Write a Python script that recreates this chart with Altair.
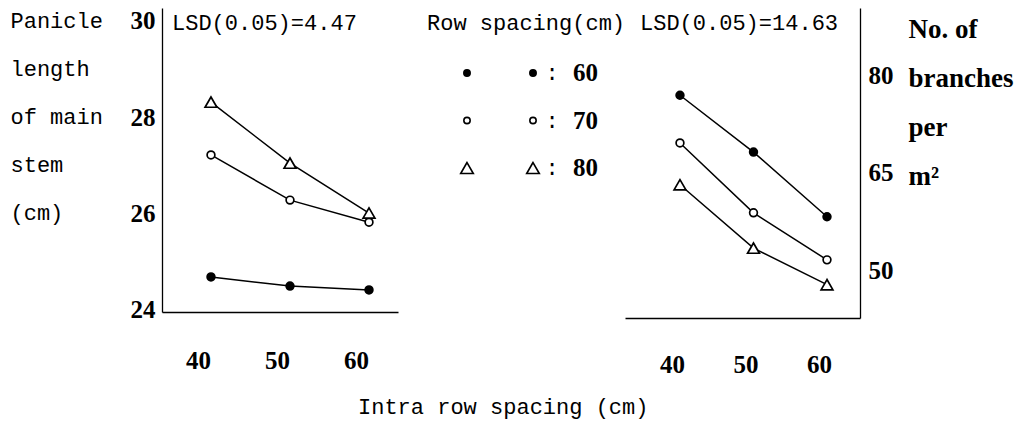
import altair as alt
import pandas as pd

# ---------------- data ----------------
spacing_x = [40, 50, 60]
row_series = ["60", "70", "80"]

panicle_60 = [24.67, 24.48, 24.40]
panicle_70 = [27.21, 26.27, 25.81]
panicle_80 = [28.31, 27.04, 26.00]

branches_60 = [76.9, 68.2, 58.3]
branches_70 = [69.6, 58.9, 51.7]
branches_80 = [63.2, 53.5, 47.9]

left_y_ticks = [24, 26, 28, 30]
right_y_ticks = [50, 65, 80]
x_ticks = [40, 50, 60]

lsd_left = "LSD(0.05)=4.47"
lsd_right = "LSD(0.05)=14.63"
left_title = ["Panicle", "length", "of main", "stem", "(cm)"]
right_title = ["No. of", "branches", "per", "m\u00b2"]
legend_title = "Row spacing(cm)"
x_title = "Intra row spacing (cm)"

MONO = "Liberation Mono"
SERIF = "Liberation Serif"


def long_table(series_lists):
    rows = []
    for s, vals in zip(row_series, series_lists):
        for x, v in zip(spacing_x, vals):
            rows.append({"spacing": x, "series": s, "value": v})
    return pd.DataFrame(rows)


left_df = long_table([panicle_60, panicle_70, panicle_80])
right_df = long_table([branches_60, branches_70, branches_80])
legend_df = pd.DataFrame({"series": row_series, "label": row_series})

shape_scale = alt.Scale(domain=row_series, range=["circle", "circle", "triangle-up"])
fill_scale = alt.Scale(domain=row_series, range=["black", "white", "white"])
is_tri = alt.datum.series == "80"


def panel(df, xdom, ydom, yticks, orient, title_lines, title_x, title_y,
          title_lh, title_font, title_size, title_weight, lab_pad_x,
          lab_off_x, lab_pad_y, lsd_text, lsd_x, w, h):
    x_enc = alt.X(
        "spacing:Q",
        scale=alt.Scale(domain=xdom, nice=False, zero=False),
        axis=alt.Axis(values=x_ticks, title=None, ticks=False, tickSize=0,
                      labelPadding=lab_pad_x, labelOffset=lab_off_x,
                      labelFont=SERIF, labelFontSize=25, labelFontWeight="bold",
                      labelFlush=False),
    )
    y_enc = alt.Y(
        "value:Q",
        scale=alt.Scale(domain=ydom, nice=False, zero=False),
        axis=alt.Axis(values=yticks, orient=orient, title=title_lines,
                      titleAngle=0, titleAlign="left", titleBaseline="alphabetic",
                      titleX=title_x, titleY=title_y, titleLineHeight=title_lh,
                      titleFont=title_font, titleFontSize=title_size,
                      titleFontWeight=title_weight, ticks=False, tickSize=0,
                      labelPadding=lab_pad_y, labelFont=SERIF, labelFontSize=25,
                      labelFontWeight="bold", labelFlush=False),
    )
    base = alt.Chart(df)
    lines = base.mark_line(color="black", strokeWidth=1.5).encode(
        x=x_enc, y=y_enc, detail="series:N"
    )
    pts = base.mark_point(color="black", strokeWidth=1.7, opacity=1,
                          filled=False).encode(
        x="spacing:Q", y="value:Q",
        shape=alt.Shape("series:N", scale=shape_scale, legend=None),
        fill=alt.Fill("series:N", scale=fill_scale, legend=None),
        size=alt.condition(is_tri, alt.value(140), alt.value(60)),
    )
    lsd = alt.Chart(pd.DataFrame({"t": [lsd_text]})).mark_text(
        align="left", baseline="middle", font=MONO, fontSize=22, color="black"
    ).encode(text="t:N", x=alt.value(lsd_x), y=alt.value(15))
    return alt.layer(lines, pts, lsd).properties(width=w, height=h)


left = panel(left_df, [33.8, 63.67], [23.94, 30.27], left_y_ticks, "left",
             left_title, -152, 19, 48, MONO, 22, "normal", 36, -13, 7,
             lsd_left, 10, 236, 304)

right = panel(right_df, [32.52, 64.49], [42.8, 90.26], right_y_ticks, "right",
              right_title, 48, 29, 49, SERIF, 27, "bold", 34, -8, 8,
              lsd_right, 15, 235, 310)

# ---------------- legend (middle) ----------------
leg_y = alt.Y("series:N", scale=alt.Scale(type="point", domain=row_series,
                                          range=[65, 160], padding=0), axis=None)
leg_base = alt.Chart(legend_df)


def leg_symbols(xpos):
    return leg_base.mark_point(color="black", strokeWidth=1.6, opacity=1).encode(
        x=alt.value(xpos), y=leg_y,
        shape=alt.Shape("series:N", scale=shape_scale, legend=None),
        fill=alt.Fill("series:N", scale=fill_scale, legend=None),
        size=alt.condition(is_tri, alt.value(160), alt.value(40)),
    )


leg_colon = leg_base.mark_text(text=":", font=MONO, fontSize=22, color="black",
                               align="center", baseline="middle").encode(
    x=alt.value(154), y=leg_y)
leg_lab = leg_base.mark_text(font=SERIF, fontSize=25, fontWeight="bold",
                             color="black", align="left", baseline="middle").encode(
    x=alt.value(175), y=leg_y, text="label:N")
leg_head = alt.Chart(pd.DataFrame({"t": [legend_title]})).mark_text(
    font=MONO, fontSize=22, color="black", align="left", baseline="middle"
).encode(x=alt.value(29), y=alt.value(15), text="t:N")

middle = alt.layer(leg_head, leg_symbols(69), leg_symbols(135), leg_colon,
                   leg_lab).properties(width=227, height=304)

chart = alt.hconcat(left, middle, right, spacing=0, bounds="flush").resolve_scale(
    x="independent", y="independent"
).properties(
    padding={"left": 2, "top": 0, "right": 0, "bottom": 4},
    title=alt.TitleParams(text=x_title, orient="bottom", anchor="start",
                          frame="group", dx=196, offset=20, font=MONO,
                          fontSize=22, fontWeight="normal", color="black"),
).configure_view(stroke=None).configure_axis(
    domainColor="black", domainWidth=1.3, grid=False, labelColor="black",
    titleColor="black"
)

chart.save("out.html", embed_options={"renderer": "svg", "actions": False})
